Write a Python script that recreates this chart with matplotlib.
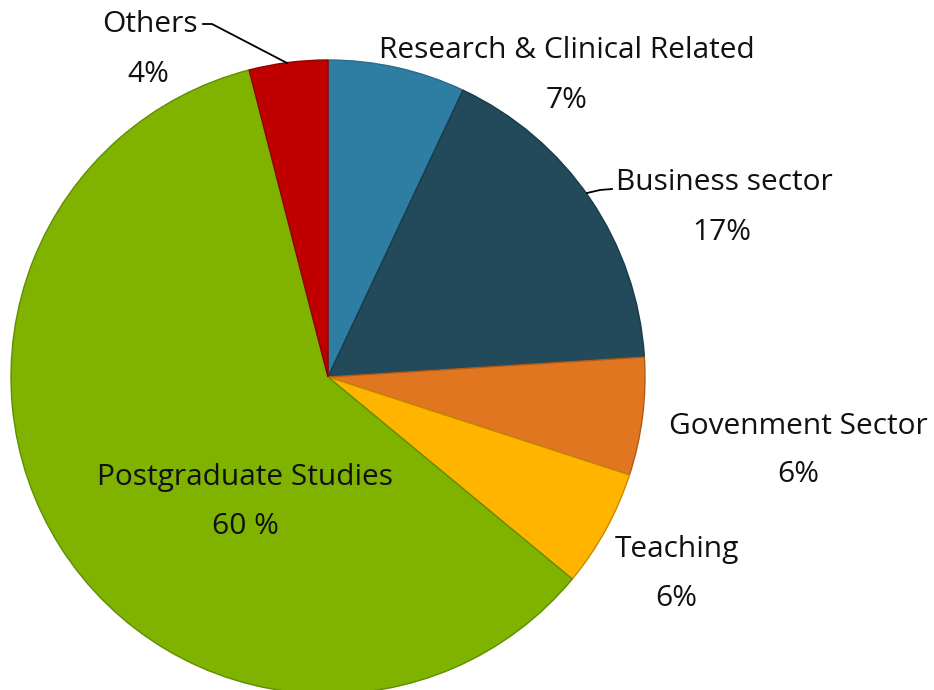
import matplotlib
matplotlib.use("Agg")
import matplotlib.pyplot as plt

categories = ["Research & Clinical Related", "Business sector", "Govenment Sector",
              "Teaching", "Postgraduate Studies", "Others"]
values = [7, 17, 6, 6, 60, 4]
pct_labels = ["7%", "17%", "6%", "6%", "60 %", "4%"]

colors = ["#2E7DA3", "#234A5A", "#E07620", "#FFB400", "#7FB300", "#C00000"]
edges = ["#2A6A8A", "#1B3A47", "#B35A15", "#C88A00", "#5F8F00", "#900000"]

W, H = 934, 690
fig = plt.figure(figsize=(W / 100, H / 100), dpi=100)
ax = fig.add_axes([0, 0, 1, 1])

cx, cy, r = 328, H - 377, 317
wedges, _ = ax.pie(values, startangle=90, counterclock=False, colors=colors,
                   center=(cx, cy), radius=r, frame=True)
for w, ec in zip(wedges, edges):
    w.set_edgecolor(ec)
    w.set_linewidth(1.0)
ax.set_xlim(0, W)
ax.set_ylim(0, H)
ax.set_aspect("equal")
ax.axis("off")

fs = 21.5
font = "Open Sans"
dy = 3
# label positions (pixel coords from top)
pos = {
    "Research & Clinical Related": ((567, 47), (567, 98)),
    "Business sector": ((724, 180), (722, 229)),
    "Govenment Sector": ((798, 423), (798, 472)),
    "Teaching": ((677, 546), (676, 596)),
    "Postgraduate Studies": ((245, 474), (245, 523)),
    "Others": ((150, 21), (148, 72)),
}
for cat, pct in zip(categories, pct_labels):
    (lx, ly), (px, py) = pos[cat]
    ax.text(lx, H - ly - dy, cat, ha="center", va="center", fontsize=fs, family=font, color="#111111")
    ax.text(px, H - py - dy, pct, ha="center", va="center", fontsize=fs, family=font, color="#111111")

# leader lines
ax.plot([203, 212, 287], [H - 24, H - 24, H - 63], color="black", lw=1.3)
ax.plot([587, 600, 612], [H - 193, H - 190, H - 189], color="black", lw=1.3)

fig.savefig("out.png", dpi=100, facecolor="white")
